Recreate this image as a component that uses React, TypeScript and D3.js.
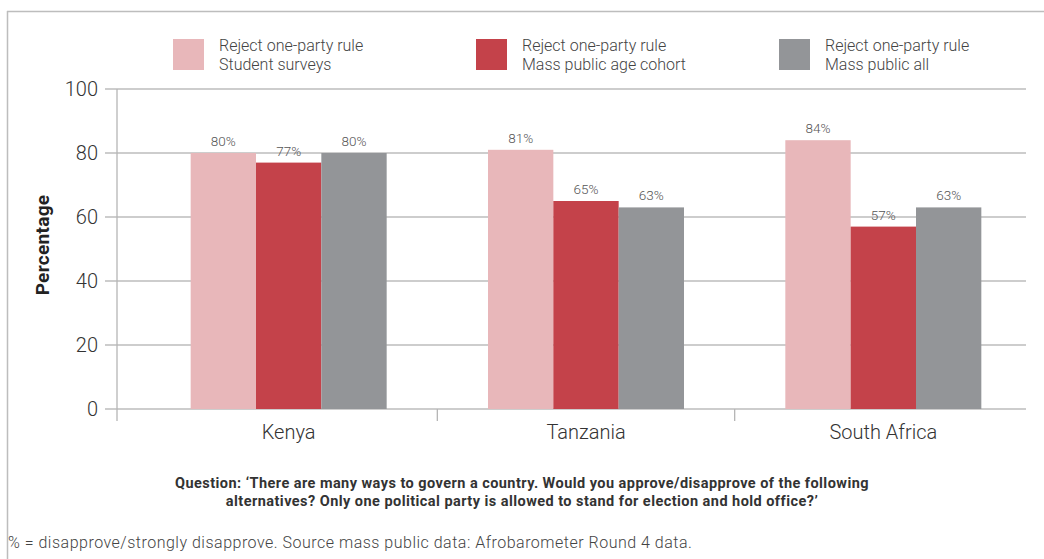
import React from 'react';
import * as d3 from 'd3';

const countries = ['Kenya', 'Tanzania', 'South Africa'];
const seriesNames = ['Student surveys', 'Mass public age cohort', 'Mass public all'];
const studentSurveys = [80, 81, 84];
const massAgeCohort = [77, 65, 57];
const massAll = [80, 63, 63];
const yTicks = [0, 20, 40, 60, 80, 100];
const colors = ['#e8b7ba', '#c4424a', '#939598'];

const W = 1044;
const H = 559;
const FONT = 'Roboto, "Liberation Sans", sans-serif';

export default function App() {
  const series = [studentSurveys, massAgeCohort, massAll];

  const y = d3.scaleLinear().domain([0, 100]).range([409, 89]);
  const x0 = d3.scaleBand<string>().domain(countries).range([140, 1032]);
  const groupW = 196;
  const x1 = d3
    .scaleBand<number>()
    .domain(d3.range(series.length))
    .range([0, groupW]);

  const axisX = 117;
  const plotRight = 1026;

  return (
    <svg
      width={W}
      height={H}
      style={{ position: 'absolute', left: 0, top: 0, background: '#fff' }}
      fontFamily={FONT}
    >
      {/* frame */}
      <line x1={7} x2={W} y1={11.5} y2={11.5} stroke="#bdbdbd" strokeWidth={1.5} />
      <line x1={7.5} x2={7.5} y1={11} y2={H} stroke="#bdbdbd" strokeWidth={1.5} />

      {/* legend */}
      {seriesNames.map((name, i) => {
        const lx = 173 + i * 303;
        return (
          <g key={name}>
            <rect x={lx} y={39} width={31} height={31} fill={colors[i]} />
            <text x={lx + 46} y={51} fontSize={16} fontWeight={300} fill="#444">
              Reject one-party rule
            </text>
            <text x={lx + 46} y={70} fontSize={16} fontWeight={300} fill="#444">
              {name}
            </text>
          </g>
        );
      })}

      {/* gridlines + y ticks */}
      {yTicks.map((t) => (
        <g key={t}>
          <line
            x1={105}
            x2={plotRight}
            y1={y(t)}
            y2={y(t)}
            stroke="#bcbcbc"
            strokeWidth={1.3}
          />
          <text
            x={98}
            y={y(t)}
            dy="0.35em"
            textAnchor="end"
            fontSize={20}
            fontWeight={300}
            fill="#333"
          >
            {t}
          </text>
        </g>
      ))}

      {/* bars */}
      {countries.map((c, ci) => {
        const gx = (x0(c) ?? 0) + x0.bandwidth() / 2 - groupW / 2;
        return (
          <g key={c} transform={`translate(${gx},0)`}>
            {series.map((s, si) => (
              <g key={si}>
                <rect
                  x={x1(si)}
                  y={y(s[ci])}
                  width={x1.bandwidth()}
                  height={y(0) - y(s[ci])}
                  fill={colors[si]}
                />
                <text
                  x={(x1(si) ?? 0) + x1.bandwidth() / 2}
                  y={y(s[ci]) - 7}
                  textAnchor="middle"
                  fontSize={13.5}
                  fontWeight={300}
                  fill="#555"
                >
                  {s[ci]}%
                </text>
              </g>
            ))}
          </g>
        );
      })}

      {/* axes */}
      <line x1={axisX} x2={axisX} y1={89} y2={421} stroke="#b5b5b5" strokeWidth={1.3} />
      {countries.slice(1).map((c) => (
        <line
          key={c}
          x1={x0(c)}
          x2={x0(c)}
          y1={409}
          y2={421}
          stroke="#b5b5b5"
          strokeWidth={1.3}
        />
      ))}
      {countries.map((c) => (
        <text
          key={c}
          x={(x0(c) ?? 0) + x0.bandwidth() / 2}
          y={439}
          textAnchor="middle"
          fontSize={20}
          fontWeight={300}
          fill="#333"
        >
          {c}
        </text>
      ))}

      <text
        transform={`translate(49,245) rotate(-90)`}
        textAnchor="middle"
        fontSize={19}
        fontWeight={700}
        letterSpacing={0.3}
        fill="#222"
      >
        Percentage
      </text>

      {/* question */}
      <text x={522} y={488} textAnchor="middle" fontSize={14.5} fontWeight={700} letterSpacing={0.45} fill="#333">
        Question: ‘There are many ways to govern a country. Would you approve/disapprove of the following
      </text>
      <text x={522} y={506} textAnchor="middle" fontSize={14.5} fontWeight={700} letterSpacing={0.45} fill="#333">
        alternatives? Only one political party is allowed to stand for election and hold office?’
      </text>

      <text x={8} y={548} fontSize={16} fontWeight={300} letterSpacing={0.5} fill="#444">
        % = disapprove/strongly disapprove. Source mass public data: Afrobarometer Round 4 data.
      </text>
    </svg>
  );
}
